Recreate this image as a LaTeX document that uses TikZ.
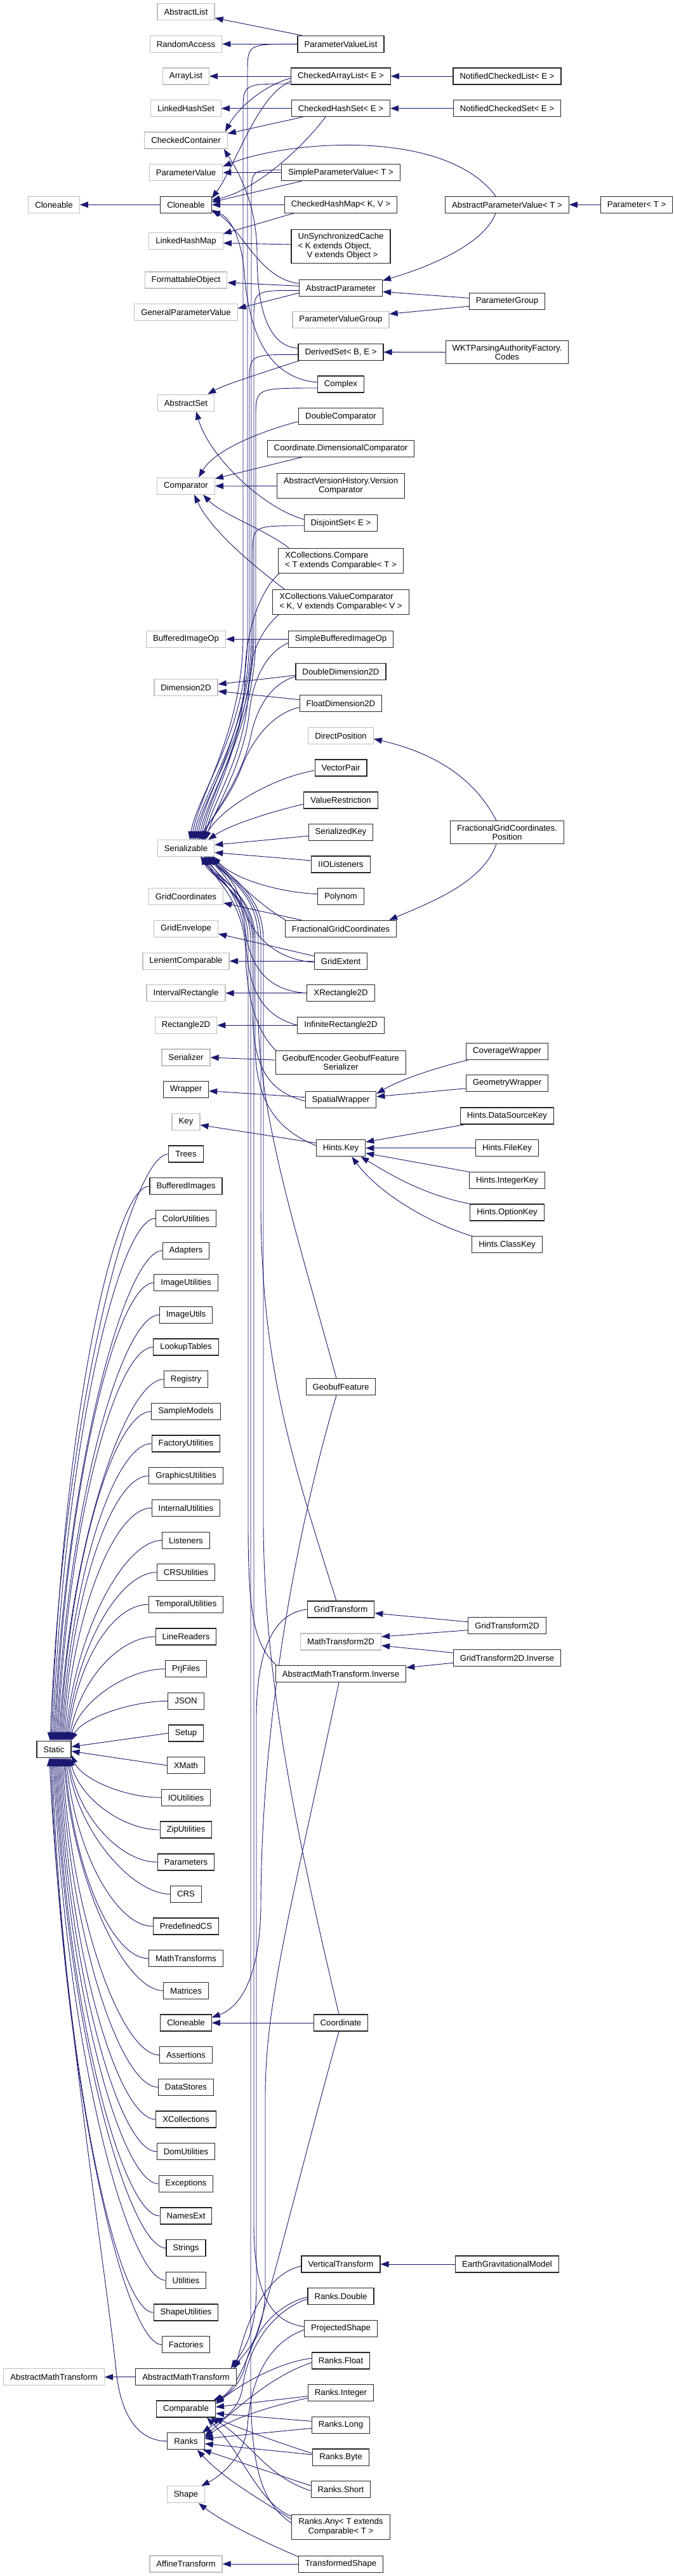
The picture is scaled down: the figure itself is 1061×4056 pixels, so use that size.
\documentclass[tikz,border=0pt]{standalone}
\usepackage{fontspec}
\setmainfont{Liberation Sans}
\usetikzlibrary{arrows.meta,calc}
\definecolor{ecol}{RGB}{25,25,112}
\definecolor{lgr}{RGB}{191,191,191}
\newcommand\nfont{\fontsize{13.2pt}{14.5pt}\selectfont}
\newcommand\mkn[5]{\node[#2] (#1) at (#3,-#4) {#5};}
\pgfdeclarelayer{back}
\pgfdeclarelayer{bg}
\pgfsetlayers{back,bg,main}
\tikzset{
  e/.style={draw=ecol, line width=0.9pt, -{Triangle[length=13pt,width=9.5pt]}},
  cls/.style={draw=black!85, line width=1.1pt, fill=white, font=\nfont, minimum height=26pt, inner xsep=10.5pt, inner ysep=6pt, align=center},
  ext/.style={cls, draw=lgr, line width=1.3pt},
}
% edge from a child of Static
\newcommand\stc[2]{%
  \coordinate (tE) at #2;
  \coordinate (tS) at (#1.west);
  \coordinate (tC) at ($(tE)!0.56!(tE |- tS)$);
  \coordinate (tD) at ($(tC)!0.11!(tC -| tS)$);
  \draw[e] (tS) .. controls ($(tS)+(-58,0)$) and (tD) .. (tE);}
% edge from above into Serializable
\newcommand\sera[3]{%
  \coordinate (sA) at #1;
  \coordinate (sL) at (#2,0);
  \draw[e] (sA) .. controls (sA -| sL) .. ($(sA -| sL)+(0,-45)$) -- (#2,-1000) .. controls (#2,-1150) and (#3+12,-1250) .. (#3,-1322.3);}
\begin{document}
\begin{tikzpicture}[x=1pt,y=1pt]
\begin{pgfonlayer}{back}
\fill[white] (0,0) rectangle (1061,-4056);
\end{pgfonlayer}
\useasboundingbox (0,0) rectangle (1061,-4056);
% ---------- nodes ----------
\mkn{AbstractList}{ext}{293}{18.7}{AbstractList}
\mkn{RandomAccess}{ext}{293}{69.3}{RandomAccess}
\mkn{PVL}{cls}{537}{69.3}{ParameterValueList}
\mkn{ArrayList}{ext}{293}{120}{ArrayList}
\mkn{CAL}{cls}{537}{120}{CheckedArrayList< E >}
\mkn{NCL}{cls}{799}{120}{NotifiedCheckedList< E >}
\mkn{LinkedHashSet}{ext}{293}{170.7}{LinkedHashSet}
\mkn{CHS}{cls}{537}{170.7}{CheckedHashSet< E >}
\mkn{NCS}{cls}{799}{170.7}{NotifiedCheckedSet< E >}
\mkn{CheckedContainer}{ext}{293}{221}{CheckedContainer}
\mkn{ParameterValue}{ext}{293}{271.7}{ParameterValue}
\mkn{SPV}{cls}{537}{271.7}{SimpleParameterValue< T >}
\mkn{CloneableBase}{ext}{85}{322.3}{Cloneable}
\mkn{Cloneable}{cls}{293}{322.3}{Cloneable}
\mkn{CHM}{cls}{537}{322.3}{CheckedHashMap< K, V >}
\mkn{APV}{cls}{799}{322.3}{AbstractParameterValue< T >}
\mkn{Param}{cls}{1003}{322.3}{Parameter< T >}
\mkn{LinkedHashMap}{ext}{293}{379.7}{LinkedHashMap}
\mkn{USC}{cls,align=left}{537}{388}{UnSynchronizedCache\\< K extends Object,\\\hspace*{14pt}V extends Object >}
\mkn{FormattableObject}{ext}{293}{441}{FormattableObject}
\mkn{AP}{cls}{537}{453.3}{AbstractParameter}
\mkn{GPV}{ext}{293}{491.7}{GeneralParameterValue}
\mkn{PG}{cls}{799}{474.3}{ParameterGroup}
\mkn{PVG}{ext}{537}{503.3}{ParameterValueGroup}
\mkn{DerivedSet}{cls}{537}{554.3}{DerivedSet< B, E >}
\mkn{WKT}{cls}{799}{554.7}{WKTParsingAuthorityFactory.\\Codes}
\mkn{Complex}{cls}{537}{605}{Complex}
\mkn{AbstractSet}{ext}{293}{634.3}{AbstractSet}
\mkn{DoubleComparator}{cls}{537}{655.7}{DoubleComparator}
\mkn{CDC}{cls}{537}{706.3}{Coordinate.DimensionalComparator}
\mkn{Comparator}{ext}{293}{765.3}{Comparator}
\mkn{AVHVC}{cls}{537}{765}{AbstractVersionHistory.Version\\Comparator}
\mkn{DisjointSet}{cls}{537}{823.7}{DisjointSet< E >}
\mkn{XCC}{cls,align=left}{537}{882.7}{XCollections.Compare\\< T extends Comparable< T >}
\mkn{XCVC}{cls,align=left}{537}{947.7}{XCollections.ValueComparator\\< K, V extends Comparable< V >}
\mkn{BufferedImageOp}{ext}{293}{1006.3}{BufferedImageOp}
\mkn{SBIO}{cls}{537}{1006.3}{SimpleBufferedImageOp}
\mkn{DD2D}{cls}{537}{1057.3}{DoubleDimension2D}
\mkn{Dimension2D}{ext}{293}{1082.3}{Dimension2D}
\mkn{FD2D}{cls}{537}{1107.7}{FloatDimension2D}
\mkn{DirectPosition}{ext}{537}{1158.3}{DirectPosition}
\mkn{VectorPair}{cls}{537}{1209}{VectorPair}
\mkn{ValueRestriction}{cls}{537}{1260}{ValueRestriction}
\mkn{SerializedKey}{cls}{537}{1310.3}{SerializedKey}
\mkn{Serializable}{ext}{293}{1335.3}{Serializable}
\mkn{FGCP}{cls}{799}{1310.7}{FractionalGridCoordinates.\\Position}
\mkn{IIOListeners}{cls}{537}{1361}{IIOListeners}
\mkn{Polynom}{cls}{537}{1411.7}{Polynom}
\mkn{GridCoordinates}{ext}{293}{1411.7}{GridCoordinates}
\mkn{FGC}{cls}{537}{1462.3}{FractionalGridCoordinates}
\mkn{GridEnvelope}{ext}{293}{1462.3}{GridEnvelope}
\mkn{GridExtent}{cls}{537}{1513.3}{GridExtent}
\mkn{LenientComparable}{ext}{293}{1513.3}{LenientComparable}
\mkn{XRect}{cls}{537}{1563.7}{XRectangle2D}
\mkn{IntervalRectangle}{ext}{293}{1563.7}{IntervalRectangle}
\mkn{InfRect}{cls}{537}{1614.3}{InfiniteRectangle2D}
\mkn{Rectangle2D}{ext}{293}{1614.3}{Rectangle2D}
\mkn{GEGFS}{cls}{537}{1673}{GeobufEncoder.GeobufFeature\\Serializer}
\mkn{Serializer}{ext}{293}{1665}{Serializer}
\mkn{CoverageWrapper}{cls}{799}{1655.7}{CoverageWrapper}
\mkn{GeometryWrapper}{cls}{799}{1705.7}{GeometryWrapper}
\mkn{Wrapper}{cls}{293}{1715.7}{Wrapper}
\mkn{SpatialWrapper}{cls}{537}{1731.7}{SpatialWrapper}
\mkn{HDSK}{cls}{799}{1757}{Hints.DataSourceKey}
\mkn{Key}{ext}{293}{1766.3}{Key}
\mkn{HintsKey}{cls}{537}{1807.7}{Hints.Key}
\mkn{HFK}{cls}{799}{1807.7}{Hints.FileKey}
\mkn{Trees}{cls}{293}{1817}{Trees}
\mkn{HIK}{cls}{799}{1858.7}{Hints.IntegerKey}
\mkn{BufferedImages}{cls}{293}{1867.7}{BufferedImages}
\mkn{HOK}{cls}{799}{1909}{Hints.OptionKey}
\mkn{ColorUtilities}{cls}{293}{1918.3}{ColorUtilities}
\mkn{HCK}{cls}{799}{1959.7}{Hints.ClassKey}
\mkn{Adapters}{cls}{293}{1969.3}{Adapters}
\mkn{ImageUtilities}{cls}{293}{2019.7}{ImageUtilities}
\mkn{ImageUtils}{cls}{293}{2070.3}{ImageUtils}
\mkn{LookupTables}{cls}{293}{2121}{LookupTables}
\mkn{Registry}{cls}{293}{2171.7}{Registry}
\mkn{GeobufFeature}{cls}{537}{2183.7}{GeobufFeature}
\mkn{SampleModels}{cls}{293}{2222.3}{SampleModels}
\mkn{FactoryUtilities}{cls}{293}{2273}{FactoryUtilities}
\mkn{GraphicsUtilities}{cls}{293}{2323.7}{GraphicsUtilities}
\mkn{InternalUtilities}{cls}{293}{2374.3}{InternalUtilities}
\mkn{Listeners}{cls}{293}{2425.3}{Listeners}
\mkn{CRSUtilities}{cls}{293}{2475.7}{CRSUtilities}
\mkn{TemporalUtilities}{cls}{293}{2526.3}{TemporalUtilities}
\mkn{GridTransform}{cls}{537}{2534}{GridTransform}
\mkn{GTtwoD}{cls}{799}{2559.7}{GridTransform2D}
\mkn{LineReaders}{cls}{293}{2577}{LineReaders}
\mkn{MathTransformtwoD}{ext}{537}{2585}{MathTransform2D}
\mkn{GTtwoDI}{cls}{799}{2610.3}{GridTransform2D.Inverse}
\mkn{PrjFiles}{cls}{293}{2627.7}{PrjFiles}
\mkn{AMTI}{cls}{537}{2635.7}{AbstractMathTransform.Inverse}
\mkn{JSON}{cls}{293}{2678.3}{JSON}
\mkn{Setup}{cls}{293}{2729}{Setup}
\mkn{Static}{cls}{85}{2754.3}{Static}
\mkn{XMath}{cls}{293}{2779.7}{XMath}
\mkn{IOUtilities}{cls}{293}{2830.3}{IOUtilities}
\mkn{ZipUtilities}{cls}{293}{2881}{ZipUtilities}
\mkn{Parameters}{cls}{293}{2932}{Parameters}
\mkn{CRS}{cls}{293}{2982.3}{CRS}
\mkn{PredefinedCS}{cls}{293}{3033}{PredefinedCS}
\mkn{MathTransforms}{cls}{293}{3083.7}{MathTransforms}
\mkn{Matrices}{cls}{293}{3134.3}{Matrices}
\mkn{Cloneabletwo}{cls}{293}{3185}{Cloneable}
\mkn{Coordinate}{cls}{537}{3185}{Coordinate}
\mkn{Assertions}{cls}{293}{3235.7}{Assertions}
\mkn{DataStores}{cls}{293}{3286.3}{DataStores}
\mkn{XCollections}{cls}{293}{3337}{XCollections}
\mkn{DomUtilities}{cls}{293}{3387.7}{DomUtilities}
\mkn{Exceptions}{cls}{293}{3438.3}{Exceptions}
\mkn{NamesExt}{cls}{293}{3489}{NamesExt}
\mkn{Strings}{cls}{293}{3539.7}{Strings}
\mkn{VerticalTransform}{cls}{537}{3565}{VerticalTransform}
\mkn{EGM}{cls}{799}{3565}{EarthGravitationalModel}
\mkn{Utilities}{cls}{293}{3590.3}{Utilities}
\mkn{RanksDouble}{cls}{537}{3615.7}{Ranks.Double}
\mkn{ShapeUtilities}{cls}{293}{3641}{ShapeUtilities}
\mkn{ProjectedShape}{cls}{537}{3666.3}{ProjectedShape}
\mkn{Factories}{cls}{293}{3691.7}{Factories}
\mkn{RanksFloat}{cls}{537}{3717}{Ranks.Float}
\mkn{AMTBase}{ext}{85}{3742.7}{AbstractMathTransform}
\mkn{AMT}{cls}{293}{3742.7}{AbstractMathTransform}
\mkn{RanksInteger}{cls}{537}{3767.7}{Ranks.Integer}
\mkn{Comparable}{cls}{293}{3793}{Comparable}
\mkn{RanksLong}{cls}{537}{3818.3}{Ranks.Long}
\mkn{Ranks}{cls}{293}{3843.7}{Ranks}
\mkn{RanksByte}{cls}{537}{3869}{Ranks.Byte}
\mkn{RanksShort}{cls}{537}{3919.7}{Ranks.Short}
\mkn{Shape}{ext}{293}{3927.7}{Shape}
\mkn{RanksAny}{cls}{537}{3978.7}{Ranks.Any< T extends\\ Comparable< T >}
\mkn{AffineTransform}{ext}{293}{4037}{AffineTransform}
\mkn{TransformedShape}{cls}{537}{4037}{TransformedShape}
% ---------- edges ----------
\begin{pgfonlayer}{bg}
% top block
\draw[e] ([xshift=7]PVL.north west) -- ([yshift=4]AbstractList.south east);
\draw[e] (PVL) -- (RandomAccess);
\draw[e] (CAL) -- (ArrayList);
\draw[e] (NCL) -- (CAL);
\draw[e] (CHS) -- (LinkedHashSet);
\draw[e] (NCS) -- (CHS);
\draw[e] (SPV) -- (ParameterValue);
\draw[e] (Cloneable) -- (CloneableBase);
\draw[e] (CHM) -- (Cloneable);
\draw[e] (Param) -- (APV);
\draw[e] ([yshift=-3]CAL.west) .. controls (415,-135) and (375,-170) .. ([xshift=-4]CheckedContainer.north east);
\draw[e] ([xshift=18]CHS.south west) -- ([yshift=-3]CheckedContainer.north east);
\draw[e] ([yshift=-8]CAL.west) .. controls (405,-150) and (372,-260) .. ([yshift=10]Cloneable.east);
\draw[e] ([xshift=-24]CHS.south) .. controls (470,-240) and (400,-300) .. ([yshift=7]Cloneable.east);
\draw[e] ([xshift=32]SPV.south west) -- ([yshift=4]Cloneable.east);
\draw[e] ([yshift=7]AP.west) .. controls (410,-440) and (380,-360) .. ([yshift=-8]Cloneable.east);
\draw[e] ([yshift=3]Complex.west) .. controls (420,-595) and (392,-520) .. (385,-430) .. controls (380,-370) and (360,-340) .. ([yshift=-11]Cloneable.east);
\draw[e] ([yshift=6]DerivedSet.west) .. controls (420,-545) and (405,-480) .. (405,-400) .. controls (405,-320) and (375,-270) .. ([xshift=-6]CheckedContainer.south east);
\draw[e] ([xshift=-18]APV.north) .. controls (700,-200) and (450,-222) .. ([yshift=-4]ParameterValue.north east);
\draw[e] ([xshift=-18]APV.south) .. controls (760,-390) and (660,-425) .. ([yshift=-2]AP.north east);
\draw[e] ([xshift=15]CHM.south west) -- ([yshift=-2]LinkedHashMap.north east);
\draw[e] ([yshift=3]USC.west) -- ([yshift=-3]LinkedHashMap.east);
\draw[e] ([yshift=3]AP.west) -- ([yshift=-4]FormattableObject.east);
\draw[e] ([yshift=-8]AP.west) -- ([yshift=6]GPV.east);
\draw[e] ([yshift=5]PG.west) -- ([yshift=-6]AP.east);
\draw[e] ([yshift=-8]PG.west) -- ([yshift=9]PVG.east);
\draw[e] (WKT) -- (DerivedSet);
\draw[e] ([xshift=2]DerivedSet.south west) .. controls (420,-585) and (355,-605) .. ([xshift=-11]AbstractSet.north east);
\draw[e] ([yshift=6]DisjointSet.west) .. controls (415,-800) and (330,-720) .. ([xshift=16]AbstractSet.south);
% comparators
\draw[e] ([yshift=-8]DoubleComparator.west) .. controls (425,-675) and (340,-705) .. ([xshift=20]Comparator.north);
\draw[e] ([xshift=55]CDC.south west) -- ([yshift=-2]Comparator.north east);
\draw[e] (AVHVC) -- (Comparator);
\draw[e] ([xshift=17]XCC.north west) .. controls (420,-835) and (350,-810) .. ([xshift=27]Comparator.south);
\draw[e] ([xshift=19]XCVC.north west) .. controls (385,-880) and (330,-830) .. ([xshift=13]Comparator.south);
\draw[e] (SBIO) -- (BufferedImageOp);
\draw[e] ([yshift=-6]DD2D.west) -- ([yshift=5]Dimension2D.east);
\draw[e] ([yshift=6]FD2D.west) -- ([yshift=-6]Dimension2D.east);
% into Serializable from above
\sera{(PVL.west)}{390}{299}
\sera{([yshift=-12]CAL.west)}{383}{302}
\sera{([yshift=4]SPV.west)}{396}{305}
\sera{([yshift=-4]AP.west)}{400}{308}
\sera{([yshift=-4]DerivedSet.west)}{393}{311}
\sera{([yshift=-6]Complex.west)}{403}{314}
\sera{([yshift=-4]DisjointSet.west)}{398}{317}
\draw[e] ([xshift=2]XCC.south west) .. controls (410,-930) and (388,-990) .. (386,-1060) .. controls (384,-1180) and (330,-1260) .. (320,-1322.3);
\draw[e] ([xshift=10]XCVC.south west) .. controls (415,-990) and (395,-1020) .. (392,-1080) .. controls (388,-1190) and (335,-1260) .. (322,-1322.3);
\draw[e] ([yshift=-6]SBIO.west) .. controls (425,-1025) and (400,-1060) .. (393,-1120) .. controls (385,-1200) and (340,-1270) .. (324,-1322.3);
\draw[e] ([yshift=-8]DD2D.west) .. controls (430,-1075) and (405,-1110) .. (395,-1160) .. controls (380,-1230) and (330,-1290) .. (318,-1322.3);
\draw[e] ([yshift=-6]FD2D.west) .. controls (425,-1125) and (395,-1170) .. (380,-1210) .. controls (360,-1260) and (325,-1300) .. (314,-1322.3);
\draw[e] ([yshift=-4]VectorPair.west) .. controls (430,-1225) and (350,-1270) .. (320,-1322.3);
\draw[e] ([yshift=-6]ValueRestriction.west) .. controls (420,-1280) and (360,-1300) .. (328,-1322.3);
\draw[e] ([yshift=-6]SerializedKey.west) -- ([yshift=5]Serializable.east);
\draw[e] ([yshift=6]IIOListeners.west) -- ([yshift=-7]Serializable.east);
% into Serializable from below
\draw[e] ([yshift=4]Polynom.west) .. controls (440,-1405) and (370,-1385) .. (335,-1348.3);
\draw[e] ([xshift=1]FGC.north west) .. controls (410,-1425) and (375,-1390) .. (333,-1348.3);
\draw[e] ([yshift=-2]GridExtent.west) .. controls (430,-1510) and (395,-1470) .. (380,-1420) .. controls (370,-1385) and (345,-1365) .. (330,-1348.3);
\draw[e] (XRect.west) .. controls (420,-1560) and (392,-1520) .. (386,-1460) .. controls (380,-1400) and (345,-1370) .. (327,-1348.3);
\draw[e] (InfRect.west) .. controls (415,-1600) and (392,-1560) .. (388,-1490) .. controls (384,-1410) and (340,-1375) .. (324,-1348.3);
\draw[e] ([xshift=1]GEGFS.north west) .. controls (400,-1620) and (388,-1560) .. (387,-1500) .. controls (386,-1420) and (335,-1380) .. (321,-1348.3);
\draw[e] ([yshift=-2]SpatialWrapper.west) .. controls (430,-1720) and (400,-1690) .. (398,-1600) -- (398,-1480) .. controls (398,-1410) and (330,-1380) .. (318,-1348.3);
\draw[e] ([yshift=4]HintsKey.west) .. controls (440,-1780) and (404,-1740) .. (402,-1650) -- (402,-1480) .. controls (402,-1405) and (335,-1378) .. (316,-1348.3);
\draw[e] ([xshift=-7]GeobufFeature.north) .. controls (470,-1950) and (408,-1760) .. (407,-1600) -- (407,-1480) .. controls (407,-1400) and (345,-1375) .. (336,-1348.3);
\draw[e] ([xshift=-7]GridTransform.north) .. controls (460,-2300) and (412,-2150) .. (411,-1900) -- (411,-1480) .. controls (411,-1400) and (345,-1372) .. (334,-1348.3);
\draw[e] ([xshift=2]AMTI.north west) .. controls (400,-2590) and (391,-2540) .. (391,-2400) -- (391,-1480) .. controls (391,-1410) and (335,-1380) .. (326,-1348.3);
\draw[e] ([xshift=-3]Coordinate.north) .. controls (470,-2900) and (416,-2650) .. (415,-2400) -- (415,-1480) .. controls (415,-1400) and (348,-1372) .. (336,-1348.3);
\draw[e] ([yshift=3]ProjectedShape.west) .. controls (420,-3655) and (400,-3600) .. (400,-3500) -- (400,-1480) .. controls (400,-1410) and (338,-1378) .. (329,-1348.3);
\draw[e] ([yshift=-14]RanksAny.north west) .. controls (410,-3940) and (395,-3880) .. (395,-3750) -- (395,-1480) .. controls (395,-1410) and (332,-1380) .. (323,-1348.3);
% position / grid / rectangles
\draw[e] ([xshift=-17]FGCP.north) .. controls (740,-1210) and (660,-1180) .. ([yshift=-5]DirectPosition.east);
\draw[e] ([xshift=-17]FGCP.south) .. controls (760,-1390) and (680,-1420) .. ([xshift=-12]FGC.north east);
\draw[e] ([xshift=26]FGC.north west) -- ([yshift=-10]GridCoordinates.east);
\draw[e] ([yshift=8]GridExtent.west) -- ([yshift=-8]GridEnvelope.east);
\draw[e] (GridExtent) -- (LenientComparable);
\draw[e] (XRect) -- (IntervalRectangle);
\draw[e] (InfRect) -- (Rectangle2D);
\draw[e] ([yshift=4]GEGFS.west) -- (Serializer.east);
% wrappers and keys
\draw[e] ([xshift=3]CoverageWrapper.south west) .. controls (690,-1680) and (630,-1700) .. ([yshift=-4]SpatialWrapper.north east);
\draw[e] ([yshift=-8]GeometryWrapper.west) -- ([yshift=5]SpatialWrapper.east);
\draw[e] ([yshift=4]SpatialWrapper.west) -- ([yshift=-2]Wrapper.east);
\draw[e] ([xshift=8]HDSK.south west) -- ([yshift=-4]HintsKey.north east);
\draw[e] (HFK) -- (HintsKey);
\draw[e] (HIK.north west) -- ([yshift=-8]HintsKey.east);
\draw[e] (HOK.north west) .. controls (660,-1880) and (600,-1840) .. ([xshift=-8]HintsKey.south east);
\draw[e] (HCK.north west) .. controls (660,-1920) and (590,-1870) .. ([xshift=-22]HintsKey.south east);
\draw[e] ([yshift=8]HintsKey.west) -- ([yshift=-5]Key.east);
% transforms
\draw[e] ([yshift=6]GTtwoD.west) -- ([yshift=-6]GridTransform.east);
\draw[e] ([yshift=-7]GTtwoD.west) -- ([yshift=8]MathTransformtwoD.east);
\draw[e] ([yshift=8]GTtwoDI.west) -- ([yshift=-6]MathTransformtwoD.east);
\draw[e] ([yshift=-8]GTtwoDI.west) -- ([yshift=10]AMTI.east);
\draw[e] (GridTransform.west) .. controls (430,-2540) and (405,-2600) .. (404,-2700) -- (404,-3600) .. controls (404,-3680) and (380,-3705) .. ([xshift=-9]AMT.north east);
\draw[e] ([xshift=-3]AMTI.south) .. controls (460,-3000) and (418,-3150) .. (418,-3300) -- (418,-3600) .. controls (418,-3680) and (385,-3705) .. ([xshift=-5]AMT.north east);
\draw[e] ([yshift=-3]VerticalTransform.west) .. controls (420,-3580) and (390,-3650) .. ([xshift=-2]AMT.north east);
\draw[e] (EGM) -- (VerticalTransform);
\draw[e] (AMT) -- (AMTBase);
\draw[e] ([xshift=-7]GeobufFeature.south) .. controls (470,-2400) and (412,-2700) .. (411,-3000) .. controls (410,-3110) and (380,-3160) .. ([yshift=-5]Cloneabletwo.north east);
\draw[e] (Coordinate) -- (Cloneabletwo);
\draw[e] ([xshift=-3]Coordinate.south) .. controls (470,-3430) and (420,-3640) .. (395,-3700) .. controls (375,-3750) and (360,-3770) .. ([xshift=-4]Comparable.north east);
% ranks
\draw[e] ([yshift=-1]RanksDouble.west) .. controls (430,-3630) and (395,-3680) .. (385,-3730) .. controls (375,-3760) and (355,-3772) .. ([yshift=11]Comparable.east);
\draw[e] ([yshift=-4]RanksDouble.west) .. controls (425,-3640) and (390,-3700) .. (382,-3760) .. controls (376,-3800) and (340,-3815) .. ([xshift=-4]Ranks.north east);
\draw[e] ([yshift=4]RanksFloat.west) .. controls (440,-3720) and (385,-3750) .. ([yshift=8]Comparable.east);
\draw[e] ([yshift=-3]RanksFloat.west) .. controls (430,-3740) and (375,-3790) .. ([yshift=8]Ranks.east);
\draw[e] ([yshift=-5]RanksInteger.west) -- ([yshift=3]Comparable.east);
\draw[e] ([yshift=-8]RanksInteger.west) .. controls (420,-3790) and (360,-3810) .. ([yshift=5]Ranks.east);
\draw[e] ([yshift=6]RanksLong.west) -- ([yshift=-7]Comparable.east);
\draw[e] ([yshift=-5]RanksLong.west) -- ([yshift=4]Ranks.east);
\draw[e] ([yshift=6]RanksByte.west) .. controls (420,-3840) and (370,-3820) .. ([xshift=-2]Comparable.south east);
\draw[e] ([yshift=4]RanksByte.west) -- ([yshift=-4]Ranks.east);
\draw[e] ([yshift=-2]RanksShort.west) .. controls (420,-3900) and (390,-3840) .. ([xshift=-8]Comparable.south east);
\draw[e] ([yshift=6]RanksShort.west) -- ([xshift=-3]Ranks.south east);
\draw[e] ([yshift=-3]RanksAny.north west) .. controls (410,-3945) and (380,-3860) .. ([xshift=-14]Comparable.south east);
\draw[e] ([yshift=-8]RanksAny.north west) .. controls (400,-3930) and (350,-3900) .. ([xshift=-12]Ranks.south east);
\draw[e] ([yshift=-2]ProjectedShape.west) .. controls (420,-3690) and (395,-3750) .. (390,-3820) .. controls (385,-3870) and (345,-3900) .. ([xshift=-6]Shape.north east);
\draw[e] ([yshift=-2]TransformedShape.north west) .. controls (410,-4000) and (350,-3970) .. ([xshift=20]Shape.south);
\draw[e] (TransformedShape) -- (AffineTransform);
% Static
\stc{Trees}{([xshift=-6]Static.north)}
\stc{BufferedImages}{([xshift=-4]Static.north)}
\stc{ColorUtilities}{([xshift=-2]Static.north)}
\stc{Adapters}{([xshift=0]Static.north)}
\stc{ImageUtilities}{([xshift=2]Static.north)}
\stc{ImageUtils}{([xshift=4]Static.north)}
\stc{LookupTables}{([xshift=6]Static.north)}
\stc{Registry}{([xshift=8]Static.north)}
\stc{SampleModels}{([xshift=10]Static.north)}
\stc{FactoryUtilities}{([xshift=12]Static.north)}
\stc{GraphicsUtilities}{([xshift=14]Static.north)}
\stc{InternalUtilities}{([xshift=16]Static.north)}
\stc{Listeners}{([xshift=18]Static.north)}
\stc{CRSUtilities}{([xshift=20]Static.north)}
\stc{TemporalUtilities}{([xshift=22]Static.north)}
\stc{LineReaders}{([xshift=24]Static.north)}
\stc{PrjFiles}{([xshift=25]Static.north)}
\stc{JSON}{([xshift=27]Static.north)}
\draw[e] (Setup.west) -- ([yshift=4]Static.east);
\draw[e] (XMath.west) -- ([yshift=-3]Static.east);
\stc{IOUtilities}{([yshift=-9]Static.east)}
\stc{ZipUtilities}{([xshift=25]Static.south)}
\stc{Parameters}{([xshift=23]Static.south)}
\stc{CRS}{([xshift=21]Static.south)}
\stc{PredefinedCS}{([xshift=19]Static.south)}
\stc{MathTransforms}{([xshift=17]Static.south)}
\stc{Matrices}{([xshift=15]Static.south)}
\stc{Assertions}{([xshift=13]Static.south)}
\stc{DataStores}{([xshift=11]Static.south)}
\stc{XCollections}{([xshift=9]Static.south)}
\stc{DomUtilities}{([xshift=7]Static.south)}
\stc{Exceptions}{([xshift=5]Static.south)}
\stc{NamesExt}{([xshift=3]Static.south)}
\stc{Strings}{([xshift=1]Static.south)}
\stc{Utilities}{([xshift=-1]Static.south)}
\stc{ShapeUtilities}{([xshift=-3]Static.south)}
\stc{Factories}{([xshift=-5]Static.south)}
\draw[e] (Ranks.west) .. controls (215,-3843) and (190,-3800) .. (183,-3733) .. controls (170,-3600) and (92,-3100) .. ([xshift=-7]Static.south);
\end{pgfonlayer}
\end{tikzpicture}
\end{document}
